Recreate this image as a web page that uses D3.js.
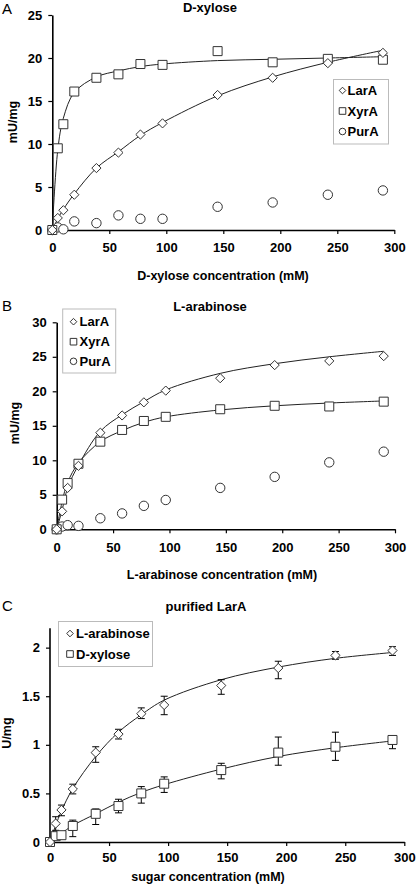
<!DOCTYPE html>
<html><head><meta charset="utf-8">
<script src="https://cdn.jsdelivr.net/npm/d3@7"></script>
<style>
html,body{margin:0;padding:0;background:#fff;}
svg text{font-family:"Liberation Sans",Arial,sans-serif;}
</style></head>
<body>
<svg id="fig" width="416" height="893"></svg>
<script>
// ---------- DATA ----------
const conc = [0, 4.8, 9.7, 19.3, 38.7, 58, 77.3, 96.7, 145, 193.3, 241.7, 290];

// Panel A: D-xylose (mU/mg)
const aLarA = [0, 1.4, 2.3, 4.1, 7.2, 9.0, 11.1, 12.4, 15.7, 17.7, 19.4, 20.6];
const aXyrA = [0, 9.5, 12.3, 16.1, 17.7, 18.1, 19.3, 19.2, 20.8, 19.5, 19.9, 19.8];
const aPurA = [0, 0.3, 0.08, 1.0, 0.8, 1.7, 1.3, 1.3, 2.7, 3.2, 4.1, 4.6];
const aFitLarA = [0, 1.3, 2.4, 4.2, 7.2, 9.1, 11.0, 12.5, 15.6, 17.8, 19.5, 20.9];
const aFitXyrA = [0, 9.3, 13.0, 16.0, 17.8, 18.5, 19.0, 19.3, 19.7, 19.85, 20.0, 20.15];

// Panel B: L-arabinose (mU/mg)
const bLarA = [0, 2.6, 6.0, 9.2, 14.0, 16.5, 18.4, 20.1, 21.9, 23.8, 24.4, 25.1];
const bXyrA = [0, 4.3, 6.7, 9.5, 12.7, 14.4, 15.7, 16.3, 17.4, 17.9, 17.8, 18.5];
const bPurA = [0, 0.4, 0.6, 0.5, 1.6, 2.3, 3.4, 4.25, 6.0, 7.6, 9.7, 11.25];
const bFitLarA = [0, 2.8, 6.0, 9.3, 14.2, 16.6, 18.5, 20.2, 22.6, 24.0, 25.0, 25.8];
const bFitXyrA = [0, 4.0, 6.8, 9.6, 12.7, 14.3, 15.5, 16.3, 17.3, 17.9, 18.3, 18.6];

// Panel C: purified LarA (U/mg)
const cArab = [0, 0.19, 0.33, 0.545, 0.92, 1.11, 1.32, 1.41, 1.61, 1.79, 1.92, 1.97];
const cArabErrUp = [0, 0.07, 0.05, 0.05, 0.06, 0.05, 0.06, 0.09, 0.06, 0.07, 0.04, 0.04];
const cArabErrDn = [0, 0.07, 0.06, 0.05, 0.1, 0.05, 0.05, 0.1, 0.09, 0.11, 0.04, 0.05];
const cXyl = [0, 0.06, 0.07, 0.165, 0.29, 0.37, 0.5, 0.6, 0.74, 0.92, 0.98, 1.05];
const cXylErrUp = [0, 0.03, 0.03, 0.06, 0.05, 0.07, 0.07, 0.07, 0.07, 0.16, 0.15, 0.04];
const cXylErrDn = [0, 0.03, 0.03, 0.11, 0.11, 0.07, 0.1, 0.09, 0.09, 0.13, 0.14, 0.09];
const cFitArab = [0, 0.17, 0.32, 0.55, 0.88, 1.13, 1.31, 1.46, 1.67, 1.80, 1.89, 1.95];
const cFitXyl = [0, 0.05, 0.09, 0.17, 0.29, 0.41, 0.51, 0.59, 0.75, 0.88, 0.97, 1.04];

const xTicks = [0, 50, 100, 150, 200, 250, 300];
const yTicksA = [0, 5, 10, 15, 20, 25];
const yTicksB = [0, 5, 10, 15, 20, 25, 30];
const yTicksC = [0, 0.5, 1, 1.5, 2];

// ---------- DRAWING ----------
const svg = d3.select("#fig");
const STROKE = "#333";

function markerPath(type, s) {
  if (type === "diamond") return `M0,${-s}L${s},0L0,${s}L${-s},0Z`;
  return `M${-s},${-s}H${s}V${s}H${-s}Z`;
}
function drawMarker(g, type, x, y, s) {
  if (type === "circle") {
    g.append("circle").attr("cx", x).attr("cy", y).attr("r", s)
      .attr("fill", "#fff").attr("stroke", STROKE).attr("stroke-width", 1);
  } else {
    g.append("path").attr("d", markerPath(type, s)).attr("transform", `translate(${x},${y})`)
      .attr("fill", "#fff").attr("stroke", STROKE).attr("stroke-width", 1);
  }
}

function panel(cfg) {
  const g = svg.append("g");
  const x = d3.scaleLinear().domain([0, 300]).range(cfg.xr);
  const y = d3.scaleLinear().domain(cfg.yd).range(cfg.yr);

  const xa = g.append("g").attr("transform", `translate(0,${cfg.yr[0]})`)
    .call(d3.axisBottom(x).tickValues(xTicks).tickSize(4).tickSizeOuter(0).tickPadding(cfg.xpad));
  const ya = g.append("g").attr("transform", `translate(${cfg.xr[0]},0)`)
    .call(d3.axisLeft(y).tickValues(cfg.yticks).tickSize(4).tickSizeOuter(0).tickPadding(6)
      .tickFormat(d3.format("")));
  [xa, ya].forEach(a => {
    a.select(".domain").attr("stroke", "#000").attr("stroke-width", 1.6);
    a.selectAll(".tick line").attr("stroke", "#000").attr("stroke-width", 1.2);
    a.selectAll(".tick text").attr("font-size", 13).attr("font-weight", "bold")
      .attr("fill", "#000").style("font-family", "'Liberation Sans',Arial,sans-serif");
  });
  if (cfg.yTop !== undefined) {
    ya.select(".domain").attr("d", `M0,${y(cfg.yTop)}V${cfg.yr[0]}`);
  }

  const line = d3.line().x((d, i) => x(conc[i])).y(d => y(d)).curve(d3.curveCatmullRom.alpha(0.5));
  cfg.fits.forEach(f => {
    g.append("path").attr("d", line(f)).attr("fill", "none")
      .attr("stroke", "#222").attr("stroke-width", 1);
  });

  (cfg.errs || []).forEach(e => {
    e.v.forEach((v, i) => {
      if (!e.up[i] && !e.dn[i]) return;
      const cx = x(conc[i]);
      const y1 = y(v + e.up[i]), y2 = y(v - e.dn[i]);
      g.append("line").attr("x1", cx).attr("x2", cx).attr("y1", y1).attr("y2", y2)
        .attr("stroke", "#000").attr("stroke-width", 1);
      [y1, y2].forEach(yy => g.append("line").attr("x1", cx - 3.5).attr("x2", cx + 3.5)
        .attr("y1", yy).attr("y2", yy).attr("stroke", "#000").attr("stroke-width", 1));
    });
  });

  cfg.series.slice().reverse().forEach(s => {
    s.v.forEach((v, i) => drawMarker(g, s.type, x(conc[i]), y(v), s.size));
  });

  g.append("text").attr("x", cfg.title[1]).attr("y", cfg.title[2]).attr("text-anchor", "middle")
    .attr("font-size", 13).attr("font-weight", "bold").text(cfg.title[0]);
  g.append("text").attr("x", cfg.xlab[1]).attr("y", cfg.xlab[2]).attr("text-anchor", "middle")
    .attr("font-size", 12.5).attr("font-weight", "bold").text(cfg.xlab[0]);
  g.append("text").attr("transform", `translate(${cfg.ylab[1]},${cfg.ylab[2]}) rotate(-90)`)
    .attr("text-anchor", "middle").attr("font-size", 12.5).attr("font-weight", "bold").text(cfg.ylab[0]);
  g.append("text").attr("x", cfg.letter[1]).attr("y", cfg.letter[2])
    .attr("font-size", 15).text(cfg.letter[0]);

  const L = cfg.legend;
  g.append("rect").attr("x", L.box[0]).attr("y", L.box[1]).attr("width", L.box[2]).attr("height", L.box[3])
    .attr("fill", "#fff").attr("stroke", "#bbb").attr("stroke-width", 1);
  cfg.series.forEach((s, i) => {
    const ry = L.rows[i];
    drawMarker(g, s.type, L.mx, ry, 3.3);
    g.append("text").attr("x", L.tx).attr("y", ry).attr("dy", "0.36em")
      .attr("font-size", 13).attr("font-weight", "bold").text(s.name);
  });
}

panel({
  xr: [52.3, 394.3], yr: [230, 15], yd: [0, 25], yticks: yTicksA, xpad: 9,
  fits: [aFitLarA, aFitXyrA],
  series: [
    {name: "LarA", type: "diamond", v: aLarA, size: 4.6},
    {name: "XyrA", type: "square", v: aXyrA, size: 4.5},
    {name: "PurA", type: "circle", v: aPurA, size: 4.7}
  ],
  title: ["D-xylose", 210, 11.5],
  xlab: ["D-xylose concentration (mM)", 223, 280],
  ylab: ["mU/mg", 17, 122],
  letter: ["A", 2, 14],
  legend: {box: [333.5, 79.5, 55, 64.5], rows: [90.5, 111, 131.5], mx: 342.5, tx: 347.5}
});

panel({
  xr: [56.7, 395], yr: [529.3, 322.3], yd: [0, 30], yticks: yTicksB, xpad: 9,
  fits: [bFitLarA, bFitXyrA],
  series: [
    {name: "LarA", type: "diamond", v: bLarA, size: 4.6},
    {name: "XyrA", type: "square", v: bXyrA, size: 4.5},
    {name: "PurA", type: "circle", v: bPurA, size: 4.7}
  ],
  title: ["L-arabinose", 210, 311],
  xlab: ["L-arabinose concentration (mM)", 222, 579],
  ylab: ["mU/mg", 19, 423],
  letter: ["B", 2, 311],
  legend: {box: [62.7, 309, 53, 64], rows: [321.7, 341.7, 361.3], mx: 73.5, tx: 79.5}
});

panel({
  xr: [50, 404.3], yr: [842, 628.2], yd: [0, 2.2], yticks: yTicksC, xpad: 7, yTop: 2.2,
  fits: [cFitArab, cFitXyl],
  errs: [
    {v: cArab, up: cArabErrUp, dn: cArabErrDn},
    {v: cXyl, up: cXylErrUp, dn: cXylErrDn}
  ],
  series: [
    {name: "L-arabinose", type: "diamond", v: cArab, size: 4.6},
    {name: "D-xylose", type: "square", v: cXyl, size: 4.5}
  ],
  title: ["purified LarA", 206, 611],
  xlab: ["sugar concentration (mM)", 208, 881],
  ylab: ["U/mg", 11, 733],
  letter: ["C", 2, 611],
  legend: {box: [58.5, 621.5, 94, 45], rows: [633.5, 654], mx: 70, tx: 76}
});
</script>
</body></html>
